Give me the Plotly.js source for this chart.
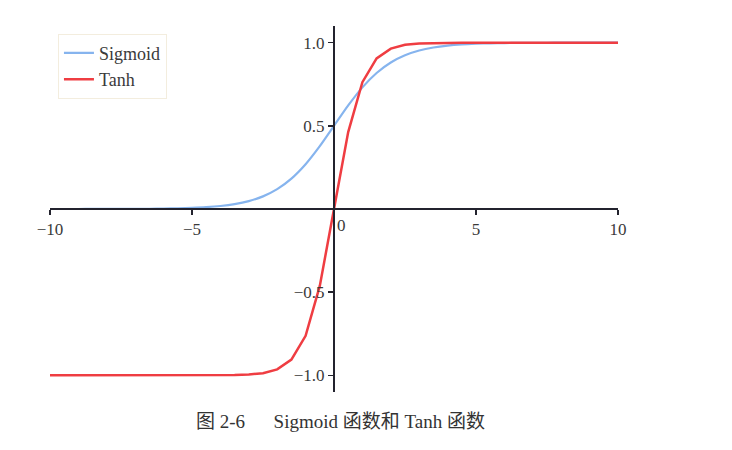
<!DOCTYPE html>
<html>
<head>
<meta charset="utf-8">
<script src="https://cdn.plot.ly/plotly-3.0.1.min.js"></script>
<style>html,body{margin:0;padding:0;background:#fff;}#chart{width:732px;height:450px;}</style>
</head>
<body>
<div id="chart"></div>
<script>
const xValues = [-10,-9.5,-9,-8.5,-8,-7.5,-7,-6.5,-6,-5.5,-5,-4.5,-4,-3.5,-3,-2.5,-2,-1.5,-1,-0.5,0,0.5,1,1.5,2,2.5,3,3.5,4,4.5,5,5.5,6,6.5,7,7.5,8,8.5,9,9.5,10];
const sigmoidValues = [0.0000,0.0001,0.0001,0.0002,0.0003,0.0006,0.0009,0.0015,0.0025,0.0041,0.0067,0.0110,0.0180,0.0293,0.0474,0.0759,0.1192,0.1824,0.2689,0.3775,0.5000,0.6225,0.7311,0.8176,0.8808,0.9241,0.9526,0.9707,0.9820,0.9890,0.9933,0.9959,0.9975,0.9985,0.9991,0.9994,0.9997,0.9998,0.9999,0.9999,1.0000];
const tanhValues = [-1.000,-1.000,-1.000,-1.000,-1.000,-1.000,-1.000,-1.000,-1.000,-1.000,-1.000,-1.000,-0.999,-0.998,-0.995,-0.987,-0.964,-0.905,-0.762,-0.462,0.000,0.462,0.762,0.905,0.964,0.987,0.995,0.998,0.999,1.000,1.000,1.000,1.000,1.000,1.000,1.000,1.000,1.000,1.000,1.000,1.000];
const xTicks = [-10,-5,5,10];
const xTickLabels = ['\u221210','\u22125','5','10'];
const yTicks = [-1,-0.5,0.5,1];
const yTickLabels = ['\u22121.0','\u22120.5','0.5','1.0'];
const legendNames = ['Sigmoid','Tanh'];
const captionText = '图 2-6\u2003\u2002Sigmoid 函数和 Tanh 函数';

const serif = 'Liberation Serif, Times New Roman, serif';
const axisColor = '#23232e';
const textColor = '#3a3a3a';
const traces = [
  {x:xValues, y:sigmoidValues, type:'scatter', mode:'lines', name:legendNames[0],
   line:{color:'#86b4ee', width:2.2, shape:'spline', smoothing:0.6}},
  {x:xValues, y:tanhValues, type:'scatter', mode:'lines', name:legendNames[1],
   line:{color:'#ef3d42', width:2.5}}
];
const layout = {
  width:732, height:450,
  margin:{l:50, r:114, t:26, b:58},
  paper_bgcolor:'#ffffff', plot_bgcolor:'#ffffff',
  font:{family:serif, size:17, color:textColor},
  showlegend:true,
  legend:{x:0.014, y:0.979, xanchor:'left', yanchor:'top', bgcolor:'rgba(255,255,255,0.9)',
    bordercolor:'#f3edde', borderwidth:1, font:{family:serif, size:18, color:textColor}, tracegroupgap:0,
    entrywidth:120, entrywidthmode:'pixels'},
  xaxis:{range:[-10,10], anchor:'free', position:0.5, showgrid:false, zeroline:false,
    showline:true, linecolor:axisColor, linewidth:2, ticks:'outside', ticklen:5, tickwidth:1.5,
    tickcolor:axisColor, tickvals:xTicks, ticktext:xTickLabels, tickfont:{family:serif, size:17, color:textColor}},
  yaxis:{range:[-1.1,1.1], anchor:'free', position:0.5, showgrid:false, zeroline:false,
    showline:true, linecolor:axisColor, linewidth:2, ticks:'outside', ticklen:5, tickwidth:1.5,
    tickcolor:axisColor, tickvals:yTicks, ticktext:yTickLabels, tickfont:{family:serif, size:17, color:textColor}},
  annotations:[
    {x:0, y:0, xref:'x', yref:'y', text:'0', showarrow:false, xanchor:'left', yanchor:'top',
     xshift:1, yshift:-5, font:{family:serif, size:17, color:textColor}},
    {x:0.511, y:-0.08, xref:'paper', yref:'paper', text:captionText, showarrow:false,
     xanchor:'center', yanchor:'middle', font:{family:'Liberation Serif, Noto Sans CJK SC, serif', size:19, color:'#333'}}
  ]
};
Plotly.newPlot('chart', traces, layout, {displayModeBar:false, staticPlot:true});
</script>
</body>
</html>
